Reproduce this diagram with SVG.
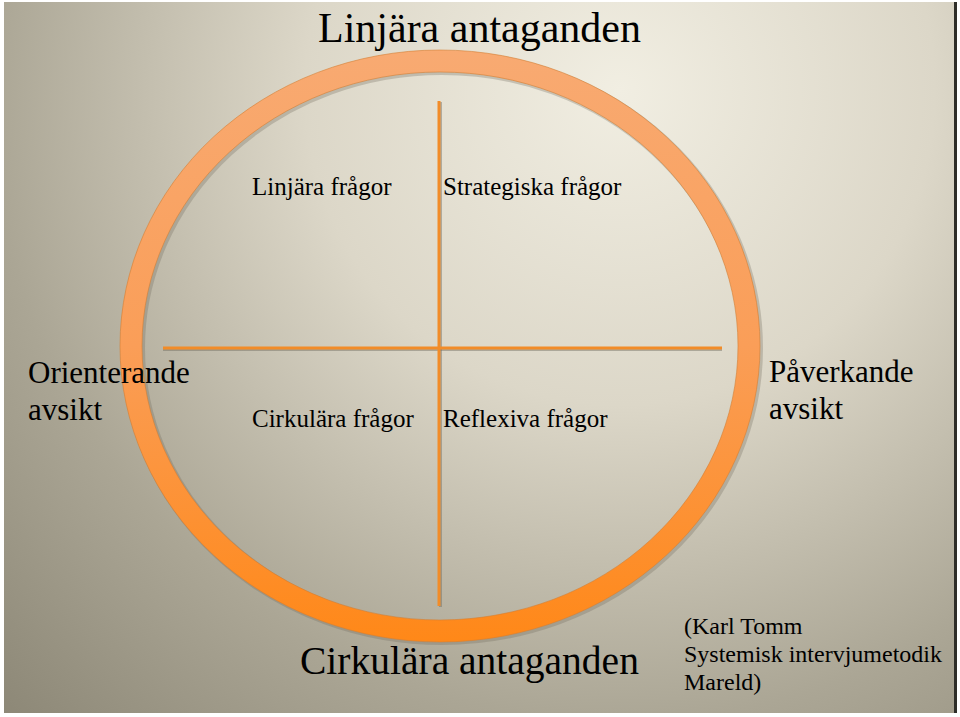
<svg xmlns="http://www.w3.org/2000/svg" width="960" height="717" viewBox="0 0 960 717">
<defs>
<radialGradient id="bg" gradientUnits="userSpaceOnUse" cx="620" cy="90" r="900">
<stop offset="0" stop-color="#f1eee2"/>
<stop offset="0.35" stop-color="#dcd7c8"/>
<stop offset="0.7" stop-color="#aba695"/>
<stop offset="1" stop-color="#8a8574"/>
</radialGradient>
<linearGradient id="ring" gradientUnits="userSpaceOnUse" x1="0" y1="50" x2="0" y2="641">
<stop offset="0" stop-color="#f8aa72"/>
<stop offset="0.5" stop-color="#fa9e58"/>
<stop offset="1" stop-color="#ff8818"/>
</linearGradient>
<style>
.t{font-family:"Liberation Serif","Times New Roman",serif;fill:#000;}
.s{font-size:25px;}
.m{font-size:31px;}
.l{font-size:42px;}
.c{font-size:24px;}
.ln{stroke:#f28c28;stroke-width:3;fill:none;}
.sh{stroke:#6f6a5e;stroke-width:3;fill:none;opacity:0.45;}
</style>
</defs>
<rect x="0" y="0" width="960" height="717" fill="#ffffff"/>
<rect x="4" y="2" width="952" height="711" fill="url(#bg)"/>
<rect x="954" y="2" width="3" height="711" fill="#2e2d28"/>

<g id="ring-shape">
<ellipse cx="442" cy="348" rx="309" ry="285" fill="none" stroke="#6f6a5e" stroke-width="24" opacity="0.3"/>
<ellipse cx="440" cy="346" rx="309" ry="285" fill="none" stroke="url(#ring)" stroke-width="22"/>
<ellipse cx="440" cy="346" rx="320" ry="296" fill="none" stroke="#d47f34" stroke-width="1" opacity="0.6"/>
<ellipse cx="440" cy="346" rx="298" ry="274" fill="none" stroke="#d47f34" stroke-width="1" opacity="0.6"/>
</g>

<g id="connectors">
<line class="sh" x1="440.5" y1="102" x2="440.5" y2="607"/>
<line class="sh" x1="163" y1="349.5" x2="722" y2="349.5"/>
<line class="ln" x1="439" y1="101" x2="439" y2="606"/>
<line class="ln" x1="163" y1="348" x2="722" y2="348"/>
</g>

<g id="title-top"><text class="t l" x="318" y="42">Linjära antaganden</text></g>
<g id="linjara-fragor"><text class="t s" x="252" y="195">Linjära frågor</text></g>
<g id="strategiska-fragor"><text class="t s" x="443" y="195">Strategiska frågor</text></g>
<g id="cirkulara-fragor"><text class="t s" x="252" y="427">Cirkulära frågor</text></g>
<g id="reflexiva-fragor"><text class="t s" x="443" y="427">Reflexiva frågor</text></g>
<g id="orienterande"><text class="t m" x="28" y="383">Orienterande</text><text class="t m" x="28" y="420">avsikt</text></g>
<g id="paverkande"><text class="t m" x="769" y="382">Påverkande</text><text class="t m" x="769" y="419">avsikt</text></g>
<g id="title-bottom"><text class="t" style="font-size:39.5px" x="300" y="674">Cirkulära antaganden</text></g>
<g id="citation"><text class="t c" x="684" y="634">(Karl Tomm</text><text class="t c" x="684" y="662">Systemisk intervjumetodik</text><text class="t c" x="684" y="690">Mareld)</text></g>
</svg>
